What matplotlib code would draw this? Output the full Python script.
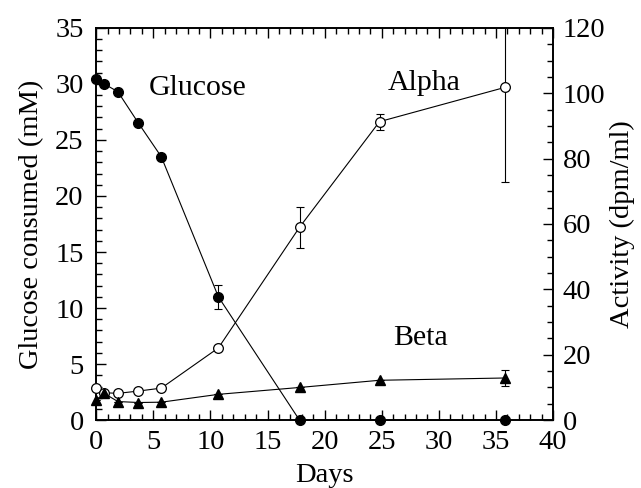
import matplotlib
matplotlib.use("Agg")
import matplotlib.pyplot as plt
from matplotlib.ticker import MultipleLocator

plt.rcParams["font.family"] = ["Liberation Serif", "DejaVu Serif"]
plt.rcParams["font.size"] = 20.5

# Glucose consumed (mM), left axis
glc_days = [0, 0.7, 1.9, 3.7, 5.7, 10.7, 17.8, 24.8, 35.8]
glc_val = [30.4, 30.0, 29.3, 26.5, 23.5, 11.0, 0, 0, 0]
glc_err = [0, 0, 0, 0, 0, 1.1, 0, 0, 0]

# Activity (dpm/ml), right axis
act_days = [0, 0.7, 1.9, 3.7, 5.7, 10.7, 17.8, 24.8, 35.8]
alpha_val = [9.8, 8.4, 8.2, 8.9, 9.8, 22.1, 59.0, 91.3, 101.8]
alpha_err = [0, 0, 0, 0, 0, 0, 6.3, 2.4, 29.0]
beta_val = [6.2, 8.2, 5.7, 5.4, 5.5, 7.9, 10.0, 12.2, 12.9]
beta_err = [0, 0, 0, 0, 0, 0, 0, 0, 2.3]

fig = plt.figure(figsize=(6.41, 4.88), dpi=100)
ax = fig.add_axes([0.150, 0.139, 0.713, 0.804])
ax2 = ax.twinx()

lw = 0.8
ms = 7

ax.errorbar(glc_days, glc_val, yerr=glc_err, fmt="none", ecolor="black",
            elinewidth=lw, capsize=3, capthick=lw)
ax.plot(glc_days, glc_val, "-o", color="black", lw=lw, ms=ms,
        mfc="black", mec="black", clip_on=False, zorder=3)

ax2.errorbar(act_days, alpha_val, yerr=alpha_err, fmt="none", ecolor="black",
             elinewidth=lw, capsize=3, capthick=lw)
ax2.errorbar(act_days, beta_val, yerr=beta_err, fmt="none", ecolor="black",
             elinewidth=lw, capsize=3, capthick=lw)
ax2.plot(act_days, alpha_val, "-o", color="black", lw=lw, ms=ms,
         mfc="white", mec="black", mew=0.9, clip_on=False, zorder=3)
ax2.plot(act_days, beta_val, "-^", color="black", lw=lw, ms=ms,
         mfc="black", mec="black", clip_on=False, zorder=4)

ax.set_xlim(0, 40)
ax.set_ylim(0, 35)
ax2.set_ylim(0, 120)

ax.xaxis.set_major_locator(MultipleLocator(5))
ax.xaxis.set_minor_locator(MultipleLocator(1))
ax.yaxis.set_major_locator(MultipleLocator(5))
ax.yaxis.set_minor_locator(MultipleLocator(1))
ax2.yaxis.set_major_locator(MultipleLocator(20))
ax2.yaxis.set_minor_locator(MultipleLocator(5))

ax.tick_params(which="both", direction="in", top=True, right=False)
ax.tick_params(which="major", length=7, width=1)
ax.tick_params(which="minor", length=4, width=1)
ax.tick_params(axis="y", pad=9)
ax.tick_params(axis="x", pad=7)
ax2.tick_params(which="both", direction="in")
ax2.tick_params(which="major", length=7, width=1, pad=7)
ax2.tick_params(which="minor", length=4, width=1)

for a in (ax, ax2):
    for s in a.spines.values():
        s.set_linewidth(1.2)

ax.set_xlabel("Days", labelpad=6)
ax.set_ylabel("Glucose consumed (mM)", labelpad=8)
ax2.set_ylabel("Activity (dpm/ml)", labelpad=3)

ax.text(4.6, 29.6, "Glucose", va="center", ha="left", fontsize=21.5)
ax2.text(25.5, 103, "Alpha", va="center", ha="left", fontsize=21.5)
ax2.text(26.0, 25, "Beta", va="center", ha="left", fontsize=21.5)

fig.savefig("out.png", dpi=100)
